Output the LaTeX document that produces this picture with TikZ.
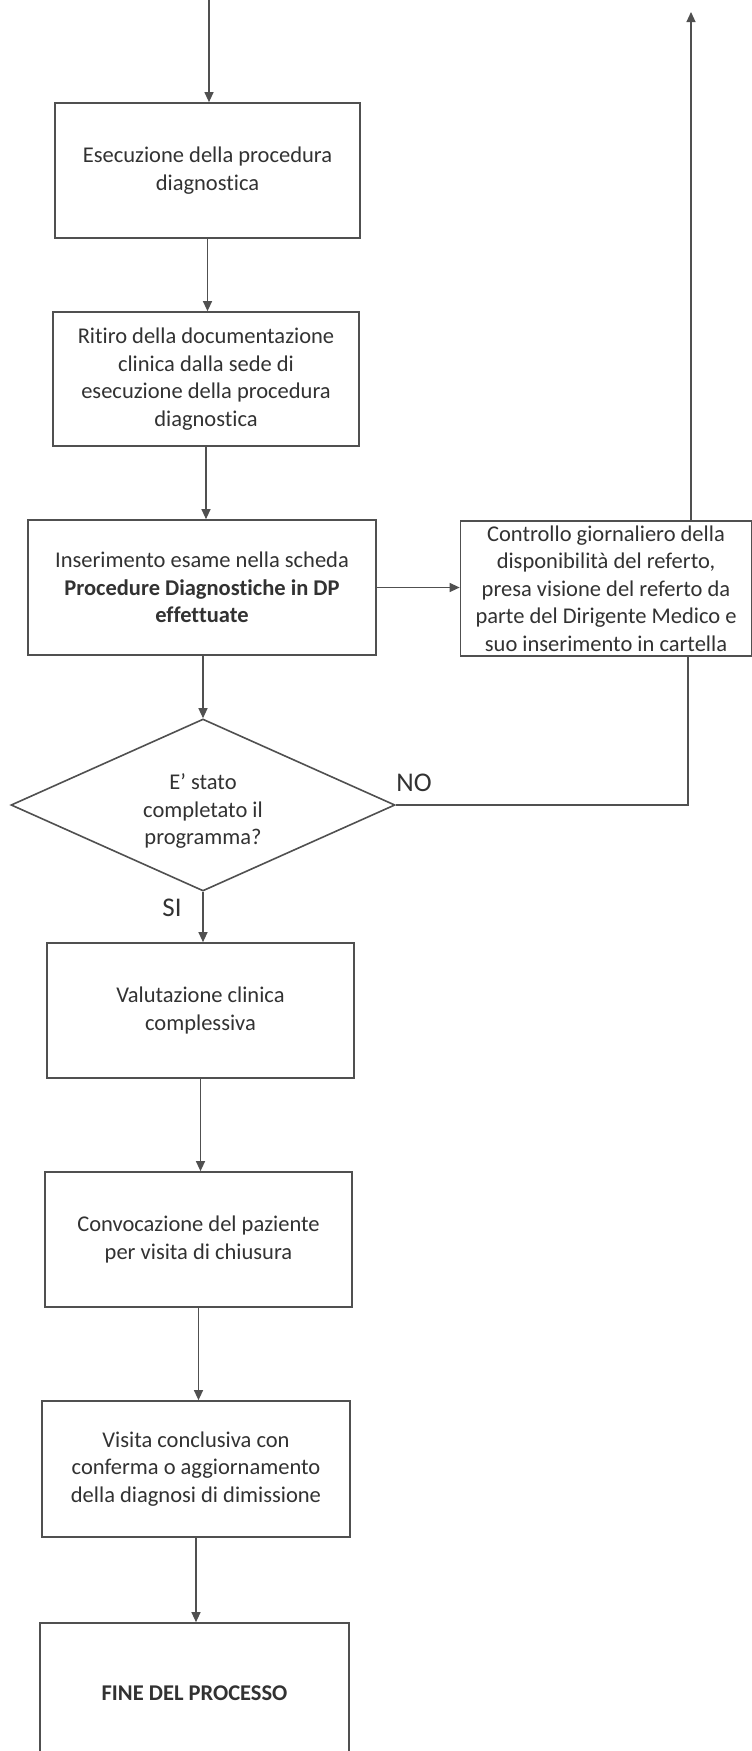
\documentclass[tikz,border=0pt]{standalone}
\usepackage{fontspec}
\setmainfont{Carlito}[Ligatures=NoCommon]
\usetikzlibrary{arrows.meta,shapes.geometric,calc}
\definecolor{linecol}{RGB}{80,80,80}
\definecolor{txtcol}{RGB}{50,50,50}
\begin{document}
\begin{tikzpicture}[x=1pt,y=-1pt,
  boxnode/.style={draw=linecol,line width=1.7pt,rectangle,inner sep=0pt,align=center,
    text=txtcol,font=\fontsize{22.5}{27.5}\selectfont},
  decnode/.style={draw=linecol,line width=1.6pt,diamond,aspect=2.23,inner sep=0pt,align=center,
    minimum width=384pt,minimum height=172pt,text=txtcol,font=\fontsize{22.5}{27.5}\selectfont},
  flow/.style={draw=linecol,line width=1.2pt,-{Triangle[length=10pt,width=9pt]}},
  plain/.style={draw=linecol,line width=1.2pt},
  lbl/.style={text=txtcol,font=\fontsize{27}{30}\selectfont,inner sep=0pt}]
\useasboundingbox (0,0) rectangle (752,1751);
\clip (0,0) rectangle (752,1751);
\fill[white] (0,0) rectangle (752,1751);

\node[boxnode,minimum width=305pt,minimum height=135pt] (b1) at (207.5,170.5)
  {Esecuzione della procedura\\diagnostica};
\node[boxnode,minimum width=306pt,minimum height=134pt] (b2) at (206,379)
  {Ritiro della documentazione\\clinica dalla sede di\\esecuzione della procedura\\diagnostica};
\node[boxnode,minimum width=348pt,minimum height=135pt] (b3) at (202,587.5)
  {Inserimento esame nella scheda\\\textbf{Procedure Diagnostiche in DP}\\\textbf{effettuate}};
\node[boxnode,minimum width=291pt,minimum height=135pt] (b4) at (606,588.5)
  {Controllo giornaliero della\\disponibilità del referto,\\presa visione del referto da\\parte del Dirigente Medico e\\suo inserimento in cartella};
\node[decnode] (dia) at (203,805) {\raisebox{-6pt}[\height][\depth]{\parbox{140pt}{\centering E’ stato\\completato il\\programma?}}};
\node[boxnode,minimum width=307pt,minimum height=135pt] (b5) at (200.5,1010.5)
  {Valutazione clinica\\complessiva};
\node[boxnode,minimum width=307pt,minimum height=135pt] (b6) at (198.5,1239.5)
  {Convocazione del paziente\\per visita di chiusura};
\node[boxnode,minimum width=308pt,minimum height=136pt] (b7) at (196,1469)
  {Visita conclusiva con\\conferma o aggiornamento\\della diagnosi di dimissione};
\node[boxnode,minimum width=309pt,minimum height=140pt] (b8) at (194.5,1693)
  {\textbf{FINE DEL PROCESSO}};

\node[lbl] (no) at (414,783) {NO};
\node[lbl] (si) at (172,908) {SI};

\coordinate (topin) at (209,0);
\coordinate (uptip) at (691,12);
\coordinate (nocorner) at (688,807);

\draw[flow] (topin) -- (topin |- b1.north);
\draw[flow] (b1.south) -- (b1.south |- b2.north);
\draw[flow] (b2.south) -- (b2.south |- b3.north);
\draw[flow] (dia.north |- b3.south) -- (dia.north);
\draw[flow] (b3.east) -- (b3.east -| b4.west);
\draw[flow] (uptip |- b4.north) -- (uptip);
\draw[plain] (dia.east) -- (dia.east -| nocorner) -- (nocorner |- b4.south);
\draw[flow] (dia.south) -- (dia.south |- b5.north);
\draw[flow] (b5.south) -- (b5.south |- b6.north);
\draw[flow] (b6.south) -- (b6.south |- b7.north);
\draw[flow] (b7.south) -- (b7.south |- b8.north);
\end{tikzpicture}
\end{document}
